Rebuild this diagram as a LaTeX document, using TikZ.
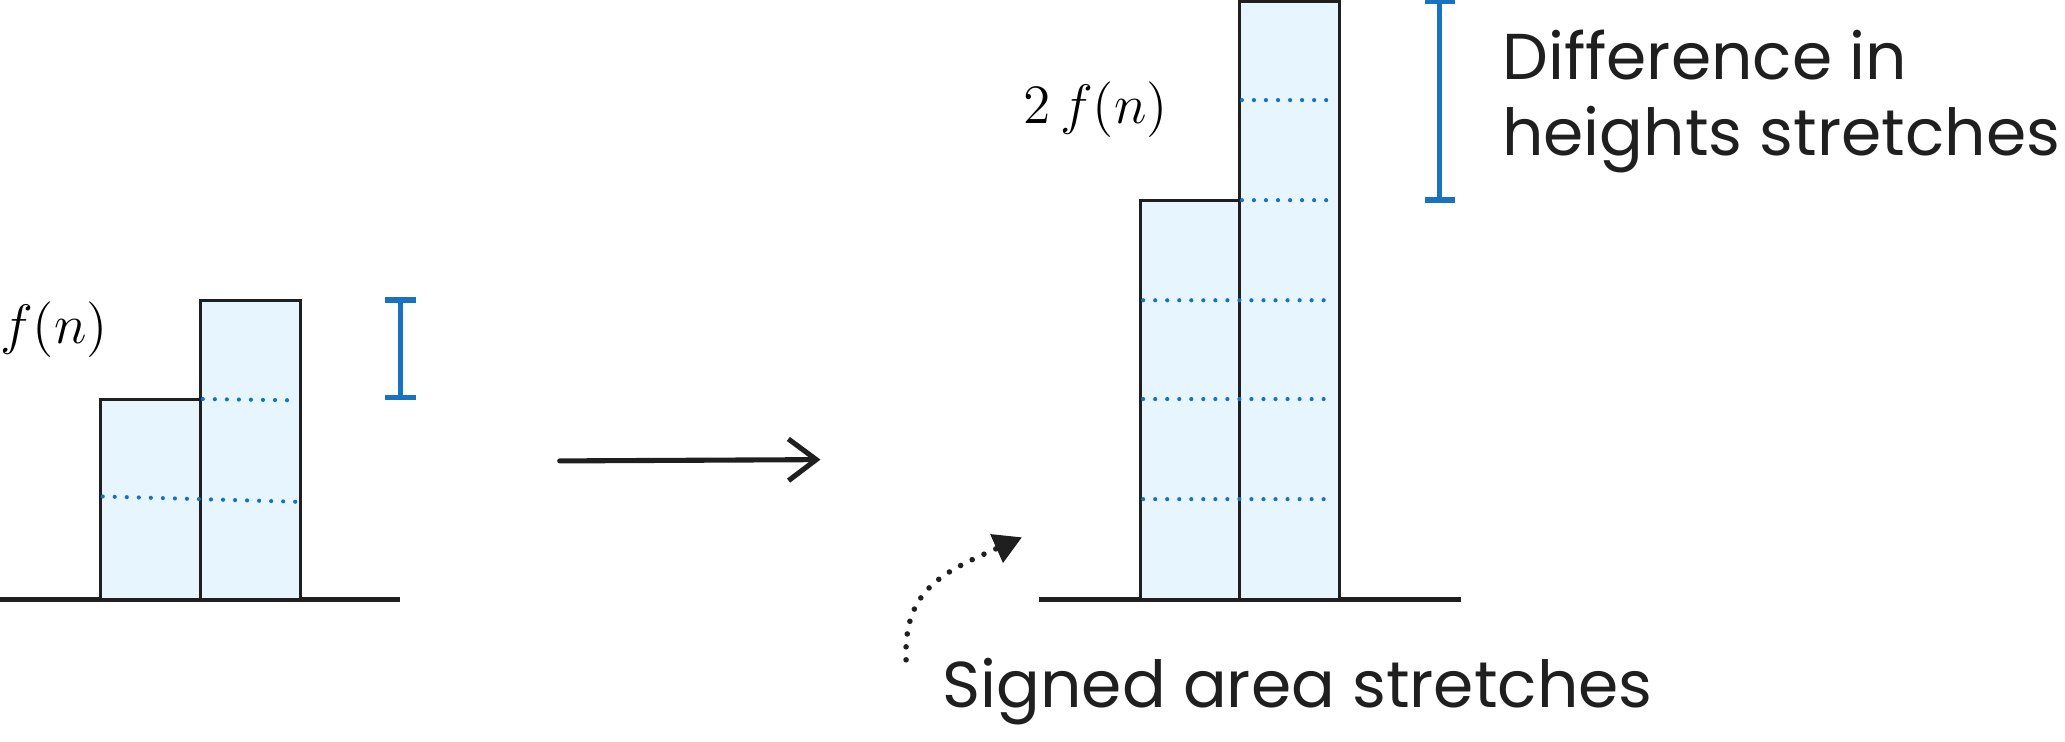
\documentclass[tikz,border=0pt]{standalone}
\usepackage{fontspec}
\newfontfamily\handfont{Poppins}
\usetikzlibrary{arrows.meta}
\tikzset{
    bar/.style={draw=inkcolor,line width=0.65pt,fill=barcolor},
    unitline/.style={draw=markcolor,line width=0.9pt,line cap=round,
        dash pattern=on 0pt off 2.6pt},
    axisline/.style={draw=inkcolor,line width=1.1pt},
    gapbar/.style={draw=markcolor,line width=1.2pt},
    note/.style={font=\handfont\fontsize{14}{16.5}\selectfont,text=inkcolor,
        align=left,inner sep=0pt}
}

\begin{document}
\begin{tikzpicture}[x=1cm,y=1cm]
  % Colors
    \colorlet{inkcolor}{black!88}
    \definecolor{barcolor}{HTML}{E7F5FF}
    \definecolor{markcolor}{HTML}{1971C2}

  % Styles
    \tikzstyle{pointer}=[draw=inkcolor,line width=1.2pt,line cap=round,
        dash pattern=on 0pt off 2.8pt,-{Triangle[length=6pt,width=6.5pt]}]

    \useasboundingbox (0,0) rectangle (15.68,5.63);

  % Before: f(n)
    \draw[axisline] (0,1.08) -- (3.04,1.08);
    \draw[bar] (0.76,1.08) rectangle (1.52,2.60);
    \draw[bar] (1.52,1.08) rectangle (2.28,3.35);
    \draw[unitline] (0.78,1.86) -- (1.52,1.84) -- (2.25,1.82);
    \draw[unitline] (1.54,2.60) -- (2.25,2.59);

    \draw[gapbar] (3.04,3.35) -- (3.04,2.61);
    \draw[gapbar] (2.92,3.35) -- (3.16,3.35);
    \draw[gapbar] (2.92,2.61) -- (3.16,2.61);
    \node[font=\large] (fn) at (0.41,3.13) {$f(n)$};

  % The map
    \coordinate (mapfrom) at (4.25,2.13);
    \coordinate (mapto) at (6.23,2.14);
    \draw[draw=inkcolor,line width=1.1pt,line cap=round,
        -{Straight Barb[length=6pt,width=9pt]}] (mapfrom) -- (mapto);

  % After: 2 f(n)
    \draw[axisline] (7.89,1.08) -- (11.09,1.08);
    \draw[bar] (8.66,1.08) rectangle (9.41,4.11);
    \draw[bar] (9.41,1.08) rectangle (10.17,5.62);
    \foreach \y in {1.84,2.60,3.35}
      \draw[unitline] (8.68,\y) -- (10.14,\y);
    \foreach \y in {4.11,4.87}
      \draw[unitline] (9.43,\y) -- (10.14,\y);

    \draw[gapbar] (10.93,5.62) -- (10.93,4.11);
    \draw[gapbar] (10.82,5.62) -- (11.05,5.62);
    \draw[gapbar] (10.82,4.11) -- (11.05,4.11);
    \node[font=\large] (twofn) at (8.32,4.80) {$2\,f(n)$};

    \node[note,anchor=west] (heights) at (11.40,4.86)
      {Difference in\\heights stretches};
    \node[note,anchor=west] (area) at (7.15,0.38) {Signed area stretches};

    \coordinate (pointfrom) at (6.88,0.62);
    \coordinate (pointto) at (7.76,1.55);
    \draw[pointer] (pointfrom) .. controls (6.86,1.15) and (7.15,1.28) .. (pointto);
\end{tikzpicture}
\end{document}
